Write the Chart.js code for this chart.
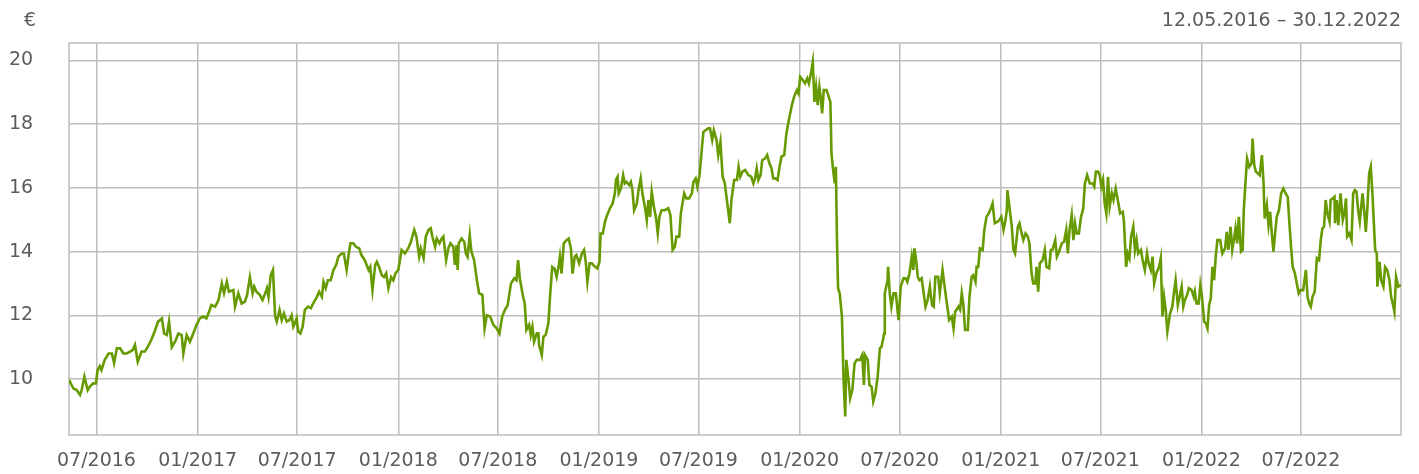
<!DOCTYPE html>
<html>
<head>
<meta charset="utf-8">
<title>Kursverlauf</title>
<script src="https://cdn.jsdelivr.net/npm/chart.js@4.4.1/dist/chart.umd.min.js"></script>
<style>
  html, body { margin: 0; padding: 0; background: #fff; }
  #wrap { width: 1419px; height: 474px; }
</style>
</head>
<body>
<div id="wrap"><canvas id="chart" width="1419" height="474"></canvas></div>
<script>
'use strict';

// period shown in the header
const startDate = '2016-05-12';
const endDate = '2022-12-30';
const currencyLabel = '€';
const rangeLabel = '12.05.2016 – 30.12.2022';

// x axis ticks (month/year)
const tickLabels = ['07/2016', '01/2017', '07/2017', '01/2018', '07/2018', '01/2019', '07/2019',
  '01/2020', '07/2020', '01/2021', '07/2021', '01/2022', '07/2022'];
const yTicks = [10, 12, 14, 16, 18, 20];

// days since startDate
const dayOffsets = [
  0, 8, 14, 20, 23, 28, 34, 38, 44, 49, 52, 56, 59, 65, 72, 78, 82, 87, 93, 99,
  105, 111, 116, 120, 125, 132, 138, 143, 149, 156, 162, 169, 173, 178, 182, 187, 193, 199, 205, 208,
  214, 220, 226, 232, 238, 244, 250, 256, 259, 266, 272, 278, 282, 287, 291, 299, 302, 308, 314, 320,
  324, 329, 334, 337, 341, 347, 352, 357, 360, 363, 367, 371, 375, 378, 383, 387, 391, 396, 401, 405,
  408, 411, 414, 417, 421, 425, 429, 435, 440, 444, 451, 455, 460, 463, 467, 471, 476, 481, 486, 490,
  496, 500, 505, 509, 512, 517, 522, 528, 532, 538, 545, 548, 552, 557, 560, 564, 569, 573, 577, 581,
  586, 590, 594, 599, 605, 611, 617, 622, 628, 632, 637, 640, 645, 649, 654, 658, 661, 666, 669, 674,
  678, 681, 686, 690, 694, 699, 702, 705, 707, 709, 714, 719, 722, 725, 729, 732, 737, 742, 746, 752,
  756, 760, 766, 772, 778, 783, 788, 793, 798, 804, 810, 814, 817, 820, 826, 829, 832, 837, 840, 843,
  846, 851, 854, 855, 860, 863, 867, 872, 875, 879, 883, 887, 891, 893, 896, 900, 905, 909, 913, 916,
  920, 923, 928, 933, 937, 940, 943, 947, 951, 957, 961, 965, 967, 971, 975, 979, 984, 989, 993, 995,
  998, 1000, 1004, 1008, 1011, 1014, 1019, 1022, 1025, 1028, 1033, 1036, 1040, 1043, 1048, 1051, 1054, 1057, 1060, 1064,
  1068, 1071, 1074, 1078, 1084, 1090, 1094, 1098, 1102, 1105, 1110, 1113, 1119, 1123, 1128, 1133, 1136, 1140, 1143, 1147,
  1151, 1154, 1158, 1163, 1166, 1170, 1173, 1178, 1181, 1185, 1189, 1193, 1196, 1202, 1205, 1210, 1215, 1218, 1221, 1225,
  1230, 1236, 1241, 1245, 1248, 1251, 1254, 1258, 1261, 1266, 1270, 1274, 1278, 1281, 1285, 1289, 1292, 1296, 1301, 1305,
  1310, 1315, 1319, 1324, 1327, 1330, 1335, 1339, 1343, 1346, 1350, 1353, 1356, 1359, 1362, 1365, 1368, 1370, 1373, 1378,
  1381, 1385, 1387, 1390, 1393, 1395, 1397, 1399, 1402, 1406, 1409, 1412, 1414, 1418, 1421, 1425, 1429, 1433, 1439, 1443,
  1446, 1448, 1453, 1456, 1460, 1463, 1467, 1471, 1475, 1478, 1483, 1484, 1489, 1490, 1493, 1496, 1500, 1504, 1509, 1513,
  1518, 1522, 1525, 1529, 1533, 1536, 1538, 1541, 1544, 1547, 1551, 1554, 1558, 1562, 1566, 1570, 1573, 1576, 1581, 1584,
  1589, 1592, 1596, 1601, 1606, 1609, 1612, 1618, 1621, 1624, 1627, 1630, 1635, 1638, 1642, 1645, 1649, 1651, 1654, 1657,
  1662, 1665, 1669, 1673, 1677, 1680, 1684, 1689, 1693, 1696, 1700, 1703, 1706, 1707, 1710, 1715, 1718, 1721, 1726, 1729,
  1733, 1736, 1740, 1744, 1747, 1751, 1754, 1758, 1760, 1763, 1766, 1771, 1775, 1778, 1783, 1786, 1789, 1794, 1797, 1801,
  1806, 1810, 1814, 1817, 1820, 1824, 1827, 1830, 1833, 1837, 1841, 1845, 1848, 1852, 1857, 1862, 1865, 1868, 1872, 1875,
  1878, 1881, 1884, 1887, 1890, 1893, 1897, 1900, 1904, 1909, 1912, 1917, 1919, 1923, 1926, 1929, 1932, 1936, 1939, 1942,
  1945, 1950, 1953, 1957, 1961, 1964, 1968, 1971, 1974, 1978, 1983, 1986, 1989, 1992, 1995, 1998, 2003, 2007, 2011, 2013,
  2017, 2021, 2024, 2027, 2030, 2034, 2037, 2042, 2046, 2048, 2051, 2055, 2058, 2061, 2065, 2068, 2071, 2074, 2077, 2080,
  2083, 2086, 2089, 2094, 2098, 2103, 2106, 2109, 2113, 2116, 2119, 2122, 2125, 2128, 2132, 2135, 2137, 2140, 2143, 2147,
  2151, 2153, 2156, 2159, 2163, 2166, 2170, 2173, 2175, 2179, 2182, 2185, 2188, 2191, 2194, 2197, 2201, 2205, 2209, 2213,
  2217, 2220, 2223, 2226, 2230, 2234, 2237, 2240, 2245, 2250, 2253, 2256, 2259, 2262, 2266, 2270, 2274, 2277, 2280, 2283,
  2286, 2289, 2293, 2295, 2299, 2302, 2303, 2306, 2309, 2313, 2317, 2320, 2323, 2325, 2329, 2333, 2336, 2339, 2342, 2345,
  2348, 2353, 2356, 2359, 2362, 2365, 2368, 2371, 2376, 2379, 2380, 2384, 2387, 2391, 2394, 2398, 2402, 2405, 2408, 2411,
  2414, 2418, 2423
];

// closing prices in EUR
const prices = [
  9.97, 9.70, 9.65, 9.50, 9.65, 10.07, 9.65, 9.76, 9.86, 9.86, 10.28, 10.40, 10.28, 10.60, 10.80, 10.80, 10.50, 10.96, 10.96, 10.80,
  10.80, 10.86, 10.91, 11.07, 10.54, 10.86, 10.86, 11.00, 11.20, 11.50, 11.80, 11.90, 11.43, 11.38, 11.80, 11.00, 11.17, 11.43, 11.38, 10.80,
  11.38, 11.17, 11.43, 11.70, 11.90, 11.96, 11.90, 12.17, 12.32, 12.27, 12.48, 13.00, 12.69, 13.05, 12.74, 12.79, 12.27, 12.69, 12.37, 12.43,
  12.64, 13.20, 12.69, 12.90, 12.74, 12.64, 12.48, 12.69, 12.85, 12.58, 13.26, 13.42, 11.96, 11.80, 12.17, 11.85, 12.06, 11.80, 11.85, 12.00,
  11.64, 11.75, 11.90, 11.49, 11.43, 11.64, 12.17, 12.27, 12.22, 12.37, 12.58, 12.74, 12.58, 13.05, 12.85, 13.10, 13.10, 13.42, 13.58, 13.84,
  13.94, 13.94, 13.42, 13.94, 14.26, 14.26, 14.15, 14.10, 13.89, 13.73, 13.42, 13.52, 12.79, 13.58, 13.68, 13.52, 13.26, 13.20, 13.32, 12.85,
  13.20, 13.10, 13.32, 13.42, 14.05, 13.94, 14.10, 14.31, 14.68, 14.47, 13.84, 14.10, 13.79, 14.47, 14.68, 14.73, 14.47, 14.15, 14.41, 14.26,
  14.41, 14.47, 13.73, 14.10, 14.26, 14.15, 13.58, 14.20, 13.42, 14.26, 14.41, 14.31, 13.94, 13.84, 14.52, 14.00, 13.73, 13.10, 12.69, 12.64,
  11.59, 12.00, 11.96, 11.70, 11.59, 11.43, 11.96, 12.17, 12.32, 13.00, 13.16, 13.10, 13.73, 13.16, 12.58, 12.37, 11.54, 11.70, 11.38, 11.64,
  11.17, 11.43, 11.43, 11.07, 10.75, 11.33, 11.38, 11.75, 12.58, 13.52, 13.47, 13.21, 13.58, 13.84, 13.31, 14.26, 14.36, 14.41, 14.10, 13.31,
  13.84, 13.89, 13.63, 13.94, 14.05, 13.68, 13.05, 13.63, 13.63, 13.52, 13.47, 13.68, 14.57, 14.57, 14.94, 15.15, 15.36, 15.51, 15.83, 16.25,
  16.35, 15.83, 15.98, 16.40, 16.14, 16.19, 16.09, 16.19, 15.93, 15.30, 15.51, 15.93, 16.30, 15.83, 15.36, 14.99, 15.62, 15.09, 15.88, 15.41,
  15.04, 14.57, 15.09, 15.30, 15.30, 15.36, 15.15, 14.05, 14.15, 14.47, 14.47, 15.20, 15.83, 15.67, 15.67, 15.83, 16.19, 16.30, 16.04, 16.40,
  17.19, 17.76, 17.81, 17.87, 17.87, 17.50, 17.81, 17.50, 17.03, 17.45, 16.35, 16.14, 15.72, 14.89, 15.62, 16.25, 16.25, 16.66, 16.35, 16.51,
  16.56, 16.40, 16.35, 16.14, 16.30, 16.61, 16.25, 16.40, 16.87, 16.92, 17.03, 16.77, 16.61, 16.30, 16.30, 16.25, 16.61, 16.98, 17.03, 17.71,
  18.18, 18.60, 18.86, 19.07, 18.96, 19.49, 19.38, 19.28, 19.44, 19.28, 19.64, 19.96, 18.70, 19.17, 18.60, 19.17, 18.76, 18.34, 19.07, 19.07,
  18.91, 18.70, 17.08, 16.56, 16.14, 16.66, 14.36, 12.85, 12.69, 11.96, 9.97, 8.82, 10.60, 9.97, 9.39, 9.65, 10.49, 10.60, 10.60, 10.75,
  9.81, 10.75, 10.60, 9.81, 9.76, 9.29, 9.55, 10.07, 10.96, 11.01, 11.43, 12.69, 13.10, 13.52, 12.69, 12.27, 12.69, 12.69, 11.85, 12.90,
  13.16, 13.16, 13.05, 13.32, 13.84, 13.42, 14.10, 13.73, 13.21, 13.10, 13.16, 12.79, 12.27, 12.48, 12.90, 12.32, 12.27, 13.21, 13.21, 12.69,
  13.42, 13.00, 12.48, 11.85, 11.96, 11.59, 12.11, 12.27, 12.17, 12.69, 12.32, 11.54, 11.54, 12.58, 13.21, 13.26, 13.05, 13.52, 13.52, 14.10,
  14.05, 14.68, 15.09, 15.20, 15.36, 15.51, 14.89, 14.94, 15.00, 15.09, 14.68, 14.94, 15.30, 15.93, 15.51, 14.78, 14.05, 13.94, 14.78, 14.89,
  14.57, 14.36, 14.57, 14.47, 14.26, 13.32, 13.00, 13.00, 13.52, 12.74, 13.63, 13.73, 14.05, 13.52, 13.47, 14.05, 14.05, 14.36, 13.84, 14.00,
  14.26, 14.31, 14.68, 13.94, 14.68, 15.15, 14.36, 14.89, 14.57, 14.57, 15.09, 15.36, 16.14, 16.40, 16.14, 16.14, 16.04, 16.51, 16.51, 16.40,
  16.04, 16.25, 15.51, 15.20, 16.35, 15.41, 15.83, 15.62, 15.98, 15.51, 15.20, 15.25, 14.94, 13.52, 13.94, 13.79, 14.47, 14.78, 14.05, 14.36,
  13.94, 14.05, 13.73, 13.42, 13.94, 13.63, 13.42, 13.84, 13.00, 13.32, 13.52, 13.79, 11.96, 12.58, 12.17, 11.49, 12.06, 12.27, 12.85, 13.10,
  12.32, 12.64, 12.90, 12.27, 12.48, 12.64, 12.85, 12.79, 12.58, 12.74, 12.37, 12.37, 12.95, 12.58, 11.80, 11.75, 11.59, 12.32, 12.53, 13.52,
  13.10, 13.84, 14.36, 14.36, 13.94, 14.10, 14.62, 14.05, 14.78, 14.05, 14.36, 14.73, 14.26, 15.09, 14.00, 14.05, 15.30, 16.14, 16.92, 16.66,
  16.77, 17.55, 16.72, 16.51, 16.45, 16.40, 17.03, 16.14, 15.04, 15.46, 14.83, 15.25, 14.57, 14.00, 14.57, 15.09, 15.30, 15.83, 15.98, 15.83,
  15.72, 14.89, 14.15, 13.52, 13.32, 12.95, 12.69, 12.79, 12.79, 13.42, 12.58, 12.37, 12.27, 12.58, 12.74, 13.79, 13.73, 14.36, 14.73, 14.78,
  15.62, 15.20, 14.94, 15.62, 15.67, 15.72, 14.89, 15.62, 14.83, 15.83, 14.99, 15.20, 15.67, 14.47, 14.57, 14.36, 15.83, 15.93, 15.88, 15.30,
  14.94, 15.83, 15.30, 14.62, 15.41, 16.45, 16.66, 15.83, 14.05, 13.94, 12.90, 13.68, 13.10, 12.90, 13.52, 13.42, 13.10, 12.58, 12.37, 12.11,
  13.21, 12.90, 12.95
];

const DAY = 86400000;
function toUtc(s) {
  const p = s.split('-').map(Number);
  return Date.UTC(p[0], p[1] - 1, p[2]);
}
const startMs = toUtc(startDate);
const totalDays = Math.round((toUtc(endDate) - startMs) / DAY);

// tick positions in days from the tick labels
const tickDays = tickLabels.map(function (lbl) {
  const parts = lbl.split('/');
  return Math.round((Date.UTC(Number(parts[1]), Number(parts[0]) - 1, 1) - startMs) / DAY);
});

let points = [];
for (let i = 0; i < dayOffsets.length; i++) {
  points.push({ x: dayOffsets[i], y: prices[i] });
}

const gridColor = '#bdbdbd';
const textColor = '#5c5c5c';
const fontFamily = '"DejaVu Sans", sans-serif';
const fontSize = 19;

// frame around the plot area + header texts
const framePlugin = {
  id: 'frame',
  beforeDatasetsDraw(chart) {
    const a = chart.chartArea;
    const ctx = chart.ctx;
    ctx.save();
    ctx.strokeStyle = gridColor;
    ctx.lineWidth = 1.5;
    ctx.strokeRect(a.left, a.top, a.right - a.left, a.bottom - a.top);
    ctx.restore();
  },
  afterDraw(chart) {
    const ctx = chart.ctx;
    const a = chart.chartArea;
    ctx.save();
    ctx.fillStyle = textColor;
    ctx.font = fontSize + 'px ' + fontFamily;
    ctx.textBaseline = 'middle';
    ctx.textAlign = 'left';
    ctx.fillText(currencyLabel, 24, 21);
    ctx.textAlign = 'right';
    ctx.fillText(rangeLabel, a.right, 21);
    ctx.restore();
  }
};

let chartConfig = {
  type: 'line',
  data: {
    datasets: [{
      label: 'Kurs',
      data: points,
      borderColor: '#679a01',
      borderWidth: 2.6,
      pointRadius: 0,
      tension: 0,
      fill: false
    }]
  },
  options: {
    responsive: false,
    animation: false,
    devicePixelRatio: 1,
    layout: { padding: { top: 43, right: 18, bottom: 0, left: 9 } },
    plugins: {
      legend: { display: false },
      tooltip: { enabled: false }
    },
    scales: {
      x: {
        type: 'linear',
        min: 0,
        max: totalDays,
        afterFit(scale) { scale.height = 39; },
        afterBuildTicks(scale) {
          scale.ticks = tickDays.map(function (d) { return { value: d }; });
        },
        grid: { color: gridColor, lineWidth: 1.5, drawTicks: false },
        border: { display: false },
        ticks: {
          padding: 15,
          autoSkip: false,
          maxRotation: 0,
          color: textColor,
          font: { family: fontFamily, size: fontSize },
          callback: function (value) {
            const idx = tickDays.indexOf(value);
            return idx >= 0 ? tickLabels[idx] : '';
          }
        }
      },
      y: {
        min: 8.24,
        max: 20.55,
        afterFit(scale) { scale.width = 60; },
        afterBuildTicks(scale) {
          scale.ticks = yTicks.map(function (v) { return { value: v }; });
        },
        grid: { color: gridColor, lineWidth: 1.5, drawTicks: false },
        border: { display: false },
        ticks: {
          padding: 0,
          crossAlign: 'far',
          color: textColor,
          font: { family: fontFamily, size: fontSize }
        }
      }
    }
  },
  plugins: [framePlugin]
};

new Chart(document.getElementById('chart'), chartConfig);
</script>
</body>
</html>
